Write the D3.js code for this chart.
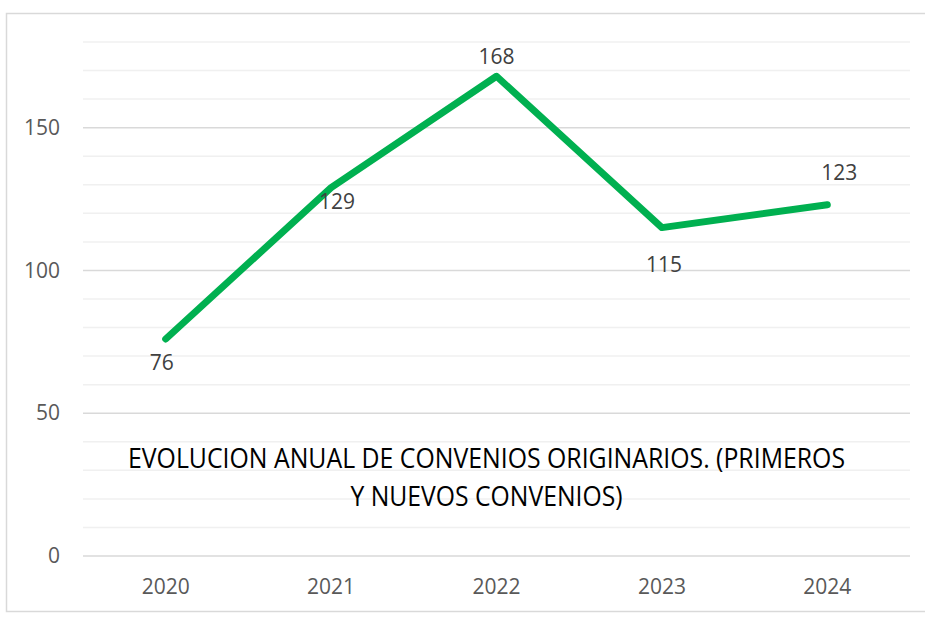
<!DOCTYPE html>
<html>
<head>
<meta charset="utf-8">
<script src="https://cdn.jsdelivr.net/npm/d3@7"></script>
<style>
  html, body { margin: 0; padding: 0; background: #fff; }
  svg { display: block; font-family: "Open Sans", "Noto Sans", sans-serif; }
</style>
</head>
<body>
<svg id="chart" width="925" height="619"></svg>
<script>
const years = ["2020", "2021", "2022", "2023", "2024"];
const values = [76, 129, 168, 115, 123];
const yTicks = [0, 50, 100, 150];
const titleLines = ["EVOLUCION ANUAL DE CONVENIOS ORIGINARIOS. (PRIMEROS", "Y NUEVOS CONVENIOS)"];

// label placement (style): offsets relative to each point
const labelOffsets = [[-4, 31], [6, 21], [0, -12], [2, 44], [12, -25]];

const svg = d3.select("#chart");
const W = 925, H = 619;
const m = { left: 83, right: 15, top: 42, bottom: 63 };

// outer border
svg.append("rect").attr("x", 6.5).attr("y", 13.5).attr("width", 930).attr("height", 598)
  .attr("fill", "#fff").attr("stroke", "#d9d9d9").attr("stroke-width", 1.5);

const x = d3.scaleBand().domain(years).range([m.left, W - m.right]);
const y = d3.scaleLinear().domain([0, 180]).range([H - m.bottom, m.top]);

// minor gridlines
const minor = d3.range(0, 181, 10).filter(v => v % 50 !== 0);
svg.append("g").selectAll("line").data(minor).join("line")
  .attr("x1", m.left).attr("x2", W - m.right)
  .attr("y1", d => y(d)).attr("y2", d => y(d))
  .attr("stroke", "#f0f0f0").attr("stroke-width", 1.5);

// major gridlines
svg.append("g").selectAll("line").data(yTicks).join("line")
  .attr("x1", m.left).attr("x2", W - m.right)
  .attr("y1", d => y(d)).attr("y2", d => y(d))
  .attr("stroke", "#d9d9d9").attr("stroke-width", 1.5);

// y axis
const yAxis = svg.append("g").attr("transform", `translate(${m.left - 23},0)`)
  .call(d3.axisLeft(y).tickValues(yTicks).tickSize(0).tickPadding(0));
yAxis.select(".domain").remove();
yAxis.selectAll("text").attr("font-size", 21).attr("fill", "#595959")
  .attr("font-family", "'Open Sans', sans-serif");

// x axis
const xAxis = svg.append("g").attr("transform", `translate(0,${H - m.bottom})`)
  .call(d3.axisBottom(x).tickSize(0).tickPadding(23));
xAxis.select(".domain").remove();
xAxis.selectAll("text").attr("font-size", 21).attr("fill", "#595959")
  .attr("font-family", "'Open Sans', sans-serif");

// title
svg.append("g").selectAll("text").data(titleLines).join("text")
  .attr("x", 486.5).attr("y", (d, i) => 468 + i * 38)
  .attr("text-anchor", "middle")
  .attr("font-size", 27).attr("fill", "#000")
  .attr("textLength", (d, i) => i === 0 ? 717 : 272)
  .attr("lengthAdjust", "spacingAndGlyphs")
  .text(d => d);

// line
const data = years.map((yr, i) => ({ yr, v: values[i], i }));
const line = d3.line().x(d => x(d.yr) + x.bandwidth() / 2).y(d => y(d.v));
svg.append("path").datum(data).attr("d", line)
  .attr("fill", "none").attr("stroke", "#00b050").attr("stroke-width", 7)
  .attr("stroke-linecap", "round").attr("stroke-linejoin", "round");

// data labels
svg.append("g").selectAll("text").data(data).join("text")
  .attr("x", d => x(d.yr) + x.bandwidth() / 2 + labelOffsets[d.i][0])
  .attr("y", d => y(d.v) + labelOffsets[d.i][1])
  .attr("text-anchor", "middle")
  .attr("font-size", 21).attr("fill", "#404040")
  .text(d => d.v);
</script>
</body>
</html>
